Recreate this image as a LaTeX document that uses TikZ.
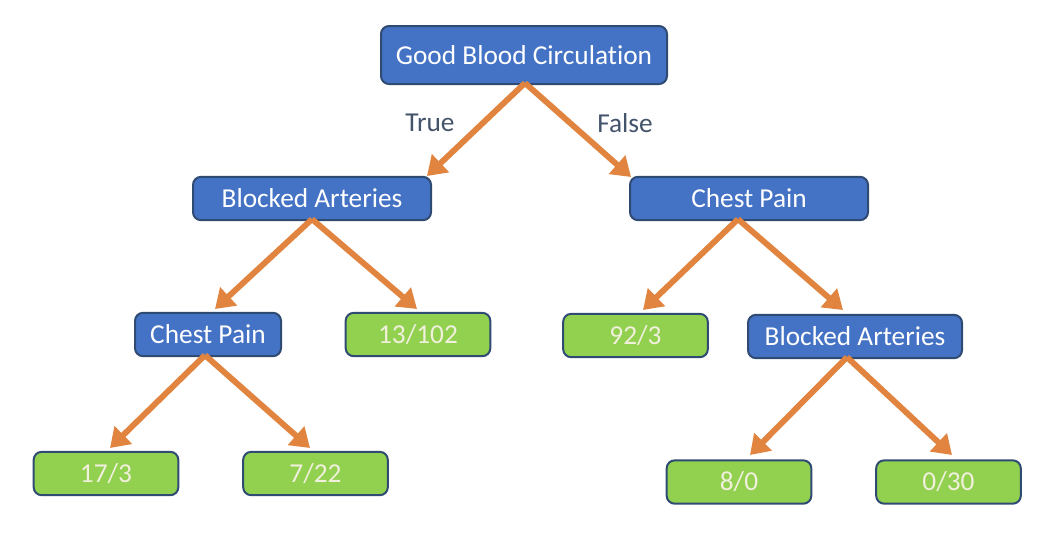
\documentclass[tikz,border=0pt]{standalone}
\usepackage{fontspec}
\setmainfont[Ligatures=NoCommon]{Carlito}
\usetikzlibrary{arrows.meta,calc}
\definecolor{nodeblue}{HTML}{4472C4}
\definecolor{nodegreen}{HTML}{92D050}
\definecolor{edgeline}{HTML}{2F4B73}
\definecolor{arrorange}{HTML}{E0843F}
\definecolor{leaftext}{HTML}{F0F0DC}
\definecolor{labeltext}{HTML}{44546A}
\tikzset{
  decision/.style={draw=edgeline, line width=1.5pt, fill=nodeblue, rounded corners=6pt,
    text=white, font=\fontsize{20.5}{24}\selectfont, inner sep=0pt, minimum height=32.5pt},
  leaf/.style={draw=edgeline, line width=1.5pt, fill=nodegreen, rounded corners=6pt,
    text=leaftext, font=\fontsize{20.5}{24}\selectfont, inner sep=0pt, minimum height=32.5pt, minimum width=108.5pt},
  branch/.style={draw=arrorange, line width=4.4pt, -{Triangle[width=18pt,length=14pt]}},
  blabel/.style={text=labeltext, font=\fontsize{20.5}{24}\selectfont}
}
\begin{document}
\begin{tikzpicture}[x=0.75pt,y=-0.75pt]
\useasboundingbox (0,0) rectangle (1053,537);
% decision nodes
\node[decision, minimum width=214.5pt, minimum height=43.5pt] (gbc) at (524,55) {Good Blood Circulation};
\node[decision, minimum width=178.5pt] (bal) at (312,198.5) {Blocked Arteries};
\node[decision, minimum width=178.5pt] (cpr) at (749,198.5) {Chest Pain};
\node[decision, minimum width=109.5pt] (cpl) at (208,334.5) {Chest Pain};
\node[decision, minimum width=160.5pt] (bar) at (855,336.5) {Blocked Arteries};
% leaves
\node[leaf] (l13) at (418,334.5) {13/102};
\node[leaf] (l92) at (635.5,335.5) {92/3};
\node[leaf] (l17) at (106,473.5) {17/3};
\node[leaf] (l7) at (315.5,473.5) {7/22};
\node[leaf] (l8) at (739,482) {8/0};
\node[leaf] (l0) at (948.5,482) {0/30};
% arrow end points
\coordinate (t1) at (427,176);
\coordinate (t2) at (631,177);
\coordinate (t3) at (215,309);
\coordinate (t4) at (417,309);
\coordinate (t5) at (643,310);
\coordinate (t6) at (843,310);
\coordinate (t7) at (110,448);
\coordinate (t8) at (310,448);
\coordinate (t9) at (750,455);
\coordinate (t10) at (952,455);
% branches
\draw[branch] ($(gbc.south)+(1,-2)$) -- (t1);
\draw[branch] ($(gbc.south)+(1,-2)$) -- (t2);
\draw[branch] ($(bal.south)+(0,-2)$) -- (t3);
\draw[branch] ($(bal.south)+(0,-2)$) -- (t4);
\draw[branch] ($(cpr.south)+(-11,-2)$) -- (t5);
\draw[branch] ($(cpr.south)+(-11,-2)$) -- (t6);
\draw[branch] ($(cpl.south)+(-3,-2)$) -- (t7);
\draw[branch] ($(cpl.south)+(-3,-2)$) -- (t8);
\draw[branch] ($(bar.south)+(-8,-2)$) -- (t9);
\draw[branch] ($(bar.south)+(-8,-2)$) -- (t10);
% branch labels
\node[blabel] (ltrue) at (430,123) {True};
\node[blabel] (lfalse) at (625,123) {False};
\end{tikzpicture}
\end{document}
